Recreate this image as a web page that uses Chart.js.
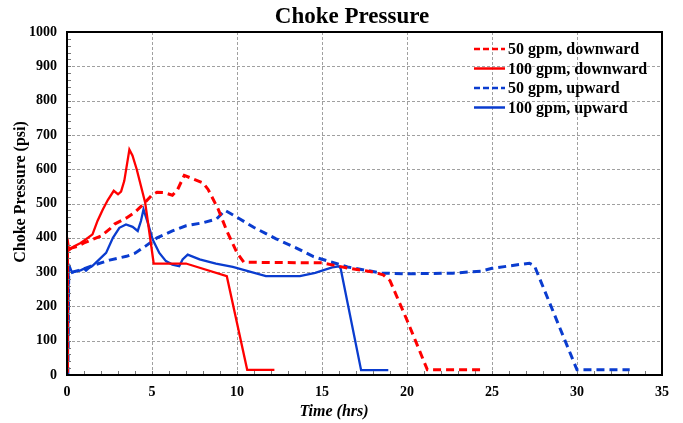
<!DOCTYPE html>
<html>
<head>
<meta charset="utf-8">
<script src="https://cdn.jsdelivr.net/npm/chart.js@4/dist/chart.umd.min.js"></script>
<style>
  html, body { margin: 0; padding: 0; background: #fff; }
  #wrap { width: 683px; height: 423px; position: relative; }
</style>
</head>
<body>
<div id="wrap"><canvas id="c" width="683" height="423"></canvas></div>
<script>
// ---- Data ----
const chartTitle = 'Choke Pressure';
const xTitle = 'Time (hrs)';
const yTitle = 'Choke Pressure (psi)';
const seriesLabels = ['50 gpm, downward', '100 gpm, downward', '50 gpm, upward', '100 gpm, upward'];

const tDown50 = [0, 0.1, 0.25, 0.6, 1.0, 1.5, 2.0, 2.5, 2.8, 3.5, 4.0, 4.5, 5.0, 5.3, 5.7, 6.2, 6.5, 6.9, 7.4, 8.0, 8.3, 8.9, 9.4, 10.0, 10.4, 12.0, 15.0, 16.5, 18.0, 18.6, 19.0, 20.0, 21.2, 24.4];
const pDown50 = [400, 365, 370, 375, 385, 395, 405, 425, 440, 458, 475, 498, 525, 533, 532, 524, 540, 582, 572, 560, 541, 483, 420, 356, 329, 328, 327, 312, 300, 292, 275, 160, 15, 15];

const tDown100 = [0, 0.05, 0.15, 0.4, 0.8, 1.1, 1.5, 1.8, 2.1, 2.4, 2.75, 3.0, 3.18, 3.37, 3.67, 3.85, 4.1, 4.6, 5.1, 7.0, 9.4, 10.6, 12.2];
const pDown100 = [10, 380, 365, 375, 385, 395, 410, 450, 482, 510, 537, 527, 535, 566, 657, 640, 600, 502, 325, 325, 288, 15, 15];

const tUp50 = [0.05, 0.1, 0.3, 0.7, 1.0, 1.5, 2.5, 3.5, 4.0, 4.6, 5.3, 6.2, 7.0, 8.0, 8.8, 9.3, 10.0, 11.0, 12.3, 13.5, 14.5, 15.5, 16.5, 18.5, 19.9, 22.7, 24.4, 25.0, 27.2, 27.5, 30.0, 33.1];
const pUp50 = [0, 290, 300, 305, 310, 319, 335, 346, 355, 375, 400, 420, 435, 444, 455, 480, 460, 430, 397, 370, 345, 330, 315, 297, 295, 297, 303, 311, 326, 318, 15, 15];

const tUp100 = [0.05, 0.1, 0.17, 0.3, 0.5, 0.8, 1.0, 1.12, 1.3, 1.5, 1.9, 2.3, 2.7, 3.08, 3.47, 3.86, 4.16, 4.35, 4.5, 4.75, 5.04, 5.43, 5.82, 6.2, 6.6, 6.8, 7.1, 7.8, 8.76, 9.75, 11.7, 13.7, 14.6, 15.6, 16.0, 16.1, 17.3, 18.9];
const pUp100 = [10, 300, 315, 298, 302, 305, 310, 304, 312, 318, 337, 356, 400, 429, 439, 432, 420, 449, 483, 444, 395, 356, 332, 322, 317, 337, 351, 337, 325, 315, 288, 288, 298, 314, 317, 310, 14, 14];

const xTickValues = [0, 5, 10, 15, 20, 25, 30, 35];
const yTickValues = [0, 100, 200, 300, 400, 500, 600, 700, 800, 900, 1000];

function pts(t, p) { return t.map((x, i) => ({ x: x, y: p[i] })); }

const RED = '#ff0000';
const BLUE = '#0a3ccf';
const SERIF = "'Liberation Serif', 'Times New Roman', serif";

const datasets = [
  { label: seriesLabels[0], data: pts(tDown50, pDown50), borderColor: RED, borderDash: [8, 5], borderWidth: 3 },
  { label: seriesLabels[1], data: pts(tDown100, pDown100), borderColor: RED, borderDash: [], borderWidth: 2.3 },
  { label: seriesLabels[2], data: pts(tUp50, pUp50), borderColor: BLUE, borderDash: [8, 5], borderWidth: 3 },
  { label: seriesLabels[3], data: pts(tUp100, pUp100), borderColor: BLUE, borderDash: [], borderWidth: 2.3 }
].map(d => Object.assign(d, { pointRadius: 0, fill: false, tension: 0, backgroundColor: d.borderColor }));

const gridPlugin = {
  id: 'dashGrid',
  beforeDatasetsDraw(chart) {
    const ctx = chart.ctx;
    const a = chart.chartArea;
    const xs = chart.scales.x, ys = chart.scales.y;
    ctx.save();
    ctx.strokeStyle = '#a0a0a0';
    ctx.lineWidth = 1;
    ctx.setLineDash([3, 2]);
    ctx.beginPath();
    xTickValues.forEach(v => {
      const px = Math.round(xs.getPixelForValue(v)) + 0.5;
      ctx.moveTo(px, a.top); ctx.lineTo(px, a.bottom);
    });
    yTickValues.forEach(v => {
      const py = Math.round(ys.getPixelForValue(v)) + 0.5;
      ctx.moveTo(a.left, py); ctx.lineTo(a.right, py);
    });
    ctx.stroke();
    ctx.restore();
  }
};

const framePlugin = {
  id: 'frame',
  afterDraw(chart) {
    const ctx = chart.ctx;
    const a = chart.chartArea;
    const xs = chart.scales.x, ys = chart.scales.y;
    ctx.save();
    // minor ticks
    ctx.strokeStyle = '#777';
    ctx.lineWidth = 1;
    ctx.beginPath();
    for (let h = 1; h < 35; h++) {
      const px = Math.round(xs.getPixelForValue(h)) + 0.5;
      ctx.moveTo(px, a.bottom);
      ctx.lineTo(px, a.bottom - 4);
    }
    for (let v = 20; v < 1000; v += 20) {
      const py = Math.round(ys.getPixelForValue(v)) + 0.5;
      ctx.moveTo(a.left, py);
      ctx.lineTo(a.left + 4, py);
    }
    ctx.stroke();
    // box
    ctx.strokeStyle = '#000';
    ctx.lineWidth = 2;
    ctx.strokeRect(a.left, a.top, a.right - a.left, a.bottom - a.top);
    // titles
    ctx.fillStyle = '#000';
    ctx.textAlign = 'center';
    ctx.textBaseline = 'middle';
    ctx.font = "bold 23px " + SERIF;
    ctx.fillText(chartTitle, 352, 17);
    ctx.font = "italic bold 16px " + SERIF;
    ctx.fillText(xTitle, 334, 412);
    ctx.save();
    ctx.translate(21, 192);
    ctx.rotate(-Math.PI / 2);
    ctx.font = "bold 16px " + SERIF;
    ctx.fillText(yTitle, 0, 0);
    ctx.restore();
    // legend
    const lx0 = a.right - 188, lx1 = a.right - 157, tx = a.right - 154;
    const rows = [49, 68.5, 88, 107.5];
    ctx.font = "bold 16px " + SERIF;
    ctx.textBaseline = 'middle';
    ctx.textAlign = 'left';
    chart.data.datasets.forEach((d, i) => {
      const y = rows[i];
      ctx.strokeStyle = d.borderColor;
      ctx.lineWidth = 2.5;
      ctx.setLineDash(d.borderDash.length ? [6, 3] : []);
      ctx.beginPath();
      ctx.moveTo(lx0, y);
      ctx.lineTo(lx1, y);
      ctx.stroke();
      ctx.setLineDash([]);
      ctx.fillStyle = '#000';
      ctx.fillText(d.label, tx, y + 1);
    });
    ctx.restore();
  }
};

new Chart(document.getElementById('c'), {
  type: 'line',
  data: { datasets: datasets },
  plugins: [gridPlugin, framePlugin],
  options: {
    responsive: false,
    animation: false,
    layout: { padding: { left: 0, right: 21, top: 32, bottom: 0 } },
    plugins: {
      legend: { display: false },
      tooltip: { enabled: false },
      title: { display: false }
    },
    scales: {
      x: {
        type: 'linear',
        min: 0, max: 35,
        afterFit(s) { s.height = 48; },
        afterBuildTicks(s) { s.ticks = xTickValues.map(v => ({ value: v })); },
        grid: { display: false, drawTicks: false },
        border: { display: false },
        ticks: { color: '#000', padding: 9, font: { family: SERIF, size: 14, weight: 'bold' }, maxRotation: 0,
                 callback: v => String(v) }
      },
      y: {
        type: 'linear',
        min: 0, max: 1000,
        afterFit(s) { s.width = 67; },
        afterBuildTicks(s) { s.ticks = yTickValues.map(v => ({ value: v })); },
        grid: { display: false, drawTicks: false },
        border: { display: false },
        ticks: { color: '#000', padding: 10, font: { family: SERIF, size: 14, weight: 'bold' },
                 callback: v => String(v) }
      }
    }
  }
});
</script>
</body>
</html>
